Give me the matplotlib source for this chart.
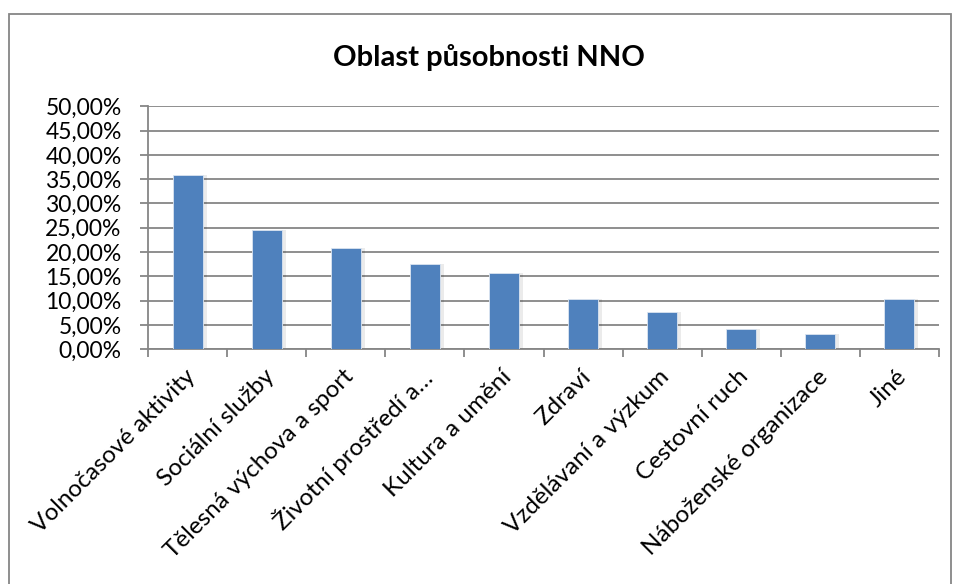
import numpy as np
import matplotlib.pyplot as plt
from matplotlib.patches import Rectangle
from matplotlib.ticker import FuncFormatter, MultipleLocator

plt.rcParams['font.family'] = ['Lato', 'DejaVu Sans']

categories = ['Volnočasové aktivity', 'Sociální služby', 'Tělesná výchova a sport',
              'Životní prostředí a…', 'Kultura a umění', 'Zdraví',
              'Vzdělávaní a výzkum', 'Cestovní ruch', 'Náboženské organizace', 'Jiné']
shares = [35.9, 24.5, 20.9, 17.5, 15.7, 10.3, 7.7, 4.1, 3.1, 10.3]

fig = plt.figure(figsize=(9.57, 5.84), dpi=100)
ax = fig.add_axes([0.1547, 0.4019, 0.8265, 0.4161])

x = np.arange(len(categories))
# soft shadow behind bars
ax.bar(x + 0.03, shares, width=0.42, color='#000000', alpha=0.08, zorder=2)
ax.bar(x, shares, width=0.38, color='#4F81BD', edgecolor='#DCE6F2', linewidth=0.6, zorder=3)

ax.set_xlim(-0.5, len(categories) - 0.5)
ax.set_ylim(0, 50)
ax.yaxis.set_major_locator(MultipleLocator(5))
ax.yaxis.set_major_formatter(FuncFormatter(lambda v, p: f'{v:.2f}'.replace('.', ',') + '%'))
ax.grid(axis='y', color='#868686', linewidth=1.3, zorder=1)

for s in ['top', 'right']:
    ax.spines[s].set_visible(False)
for s in ['left', 'bottom']:
    ax.spines[s].set_color('#868686')
    ax.spines[s].set_linewidth(1.3)

ax.set_xticks(np.arange(len(categories) + 1) - 0.5)
ax.set_xticklabels([])
ax.tick_params(axis='x', direction='out', length=6, color='#868686', width=1.3)
ax.tick_params(axis='y', direction='out', length=6, color='#868686', width=1.3,
               labelsize=16.5, pad=13)

for i, name in enumerate(categories):
    ax.annotate(name, xy=(i, 0), xycoords='data', xytext=(4, -24),
                textcoords='offset pixels', rotation=45, rotation_mode='anchor',
                ha='right', va='center', fontsize=17.5)

fig.text(0.511, 0.902, 'Oblast působnosti NNO', ha='center', va='center',
         fontsize=21, fontweight='bold')

fig.patches.append(Rectangle((8.5 / 957, -0.02), (951 - 8.5) / 957, 1.02 - 14 / 584,
                             transform=fig.transFigure, fill=False,
                             edgecolor='#868686', linewidth=1.3))

fig.savefig('out.png', dpi=100)
